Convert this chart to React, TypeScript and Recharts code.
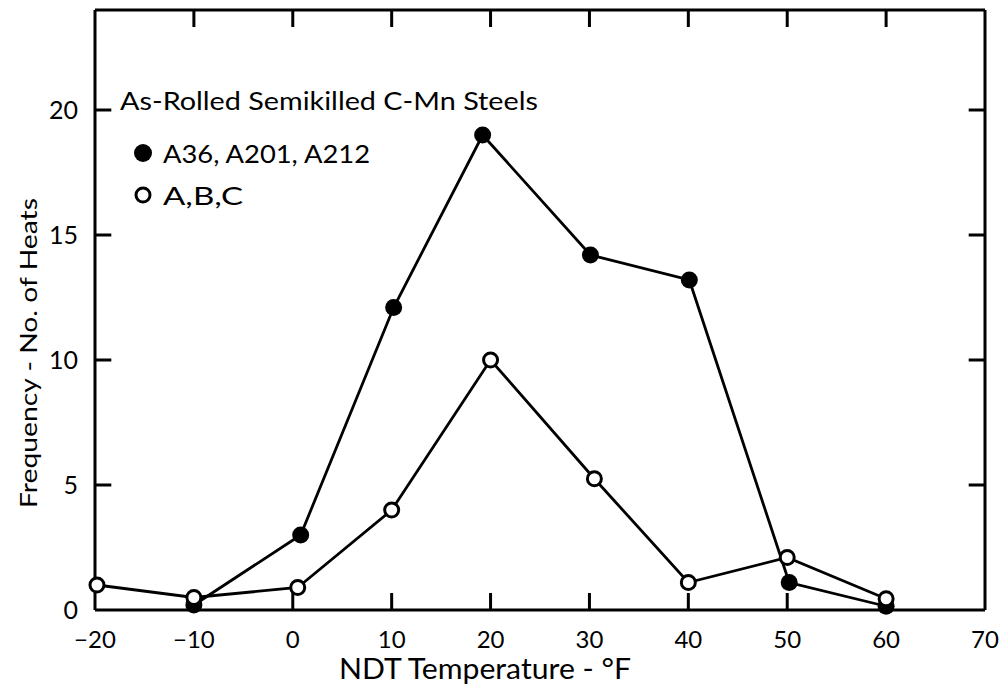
import { LineChart, Line, XAxis, YAxis, ReferenceLine, Customized } from "recharts";

const tempTicks = [-20, -10, 0, 10, 20, 30, 40, 50, 60, 70];
const countTicks = [0, 5, 10, 15, 20];
const innerTempTicks = [-10, 0, 10, 20, 30, 40, 50, 60];
const innerCountTicks = [5, 10, 15, 20];

// A36, A201, A212 (solid dots)
const solidTemps = [-10, 0.8, 10.2, 19.2, 30.1, 40.1, 50.2, 60];
const solidCounts = [0.2, 3, 12.1, 19, 14.2, 13.2, 1.1, 0.15];

// A, B, C (open dots)
const openTemps = [-19.8, -10, 0.5, 10, 20, 30.5, 40, 50, 60];
const openCounts = [1, 0.5, 0.9, 4, 10, 5.25, 1.1, 2.1, 0.45];

const solidData = solidTemps.map((t, i) => ({ t, n: solidCounts[i] }));
const openData = openTemps.map((t, i) => ({ t, n: openCounts[i] }));

const X_MIN = -20;
const X_MAX = 70;
const Y_MAX = 24;
// inward tick lengths in data units (about 17 px)
const X_TICK = 0.68;
const Y_TICK = 1.65;

const FONT = "Lato, 'Noto Sans', sans-serif";

const fmtTemp = (v: number) => (v < 0 ? "\u2212" + Math.abs(v) : String(v));

function SolidDot(props: any) {
  const { cx, cy } = props;
  return <circle cx={cx} cy={cy} r={8.5} fill="#000" />;
}

function OpenDot(props: any) {
  const { cx, cy } = props;
  return <circle cx={cx} cy={cy} r={7} fill="#fff" stroke="#000" strokeWidth={3} />;
}

function Annotations() {
  return (
    <g fontFamily={FONT} fill="#000">
      <text x={120} y={110} fontSize={25} textLength={418} lengthAdjust="spacingAndGlyphs">
        As-Rolled Semikilled C-Mn Steels
      </text>
      <circle cx={143} cy={153} r={9} fill="#000" />
      <text x={163} y={163} fontSize={25} textLength={207} lengthAdjust="spacingAndGlyphs">
        A36, A201, A212
      </text>
      <circle cx={143} cy={195} r={7} fill="#fff" stroke="#000" strokeWidth={3} />
      <text x={163} y={205} fontSize={25} textLength={80} lengthAdjust="spacingAndGlyphs">
        A,B,C
      </text>
      <text x={485} y={679} fontSize={28} textAnchor="middle" textLength={292} lengthAdjust="spacingAndGlyphs">
        NDT Temperature  - °F
      </text>
      <text
        transform="translate(37 353) rotate(-90)"
        fontSize={24}
        textAnchor="middle"
        textLength={310}
        lengthAdjust="spacingAndGlyphs"
      >
        Frequency - No. of Heats
      </text>
    </g>
  );
}

export default function App() {
  const axisLine = { stroke: "#000", strokeWidth: 3 };
  const tickText = { fill: "#000", fontSize: 24, fontFamily: FONT };
  return (
    <div style={{ position: "absolute", left: 0, top: 0, width: 999, height: 695, background: "#fff" }}>
      <LineChart width={999} height={695} margin={{ top: 10, right: 14, bottom: 0, left: 0 }}>
        <XAxis
          xAxisId="b"
          type="number"
          dataKey="t"
          domain={[X_MIN, X_MAX]}
          ticks={tempTicks}
          interval={0}
          height={85}
          tickMargin={15}
          axisLine={axisLine}
          tickLine={false}
          tick={tickText}
          tickFormatter={fmtTemp}
        />
        <YAxis
          yAxisId="l"
          type="number"
          domain={[0, Y_MAX]}
          ticks={countTicks}
          interval={0}
          width={95}
          tickMargin={11}
          axisLine={axisLine}
          tickLine={false}
          tick={{ ...tickText, fontSize: 25 }}
        />
        <Line
          xAxisId="b"
          yAxisId="l"
          data={solidData}
          dataKey="n"
          type="linear"
          stroke="#000"
          strokeWidth={2.8}
          dot={<SolidDot />}
          activeDot={false}
          isAnimationActive={false}
        />
        <Line
          xAxisId="b"
          yAxisId="l"
          data={openData}
          dataKey="n"
          type="linear"
          stroke="#000"
          strokeWidth={2.8}
          dot={<OpenDot />}
          activeDot={false}
          isAnimationActive={false}
        />
        {/* top and right frame */}
        <ReferenceLine xAxisId="b" yAxisId="l" stroke="#000" strokeWidth={3} ifOverflow="visible" y={Y_MAX} />
        <ReferenceLine xAxisId="b" yAxisId="l" stroke="#000" strokeWidth={3} ifOverflow="visible" x={X_MAX} />
        {/* inward ticks, one group per side */}
        {innerTempTicks.map((t) => (
          <ReferenceLine
            key={"xb" + t}
            xAxisId="b"
            yAxisId="l"
            stroke="#000"
            strokeWidth={3}
            ifOverflow="visible"
            segment={[{ x: t, y: 0 }, { x: t, y: X_TICK }]}
          />
        ))}
        {innerTempTicks.map((t) => (
          <ReferenceLine
            key={"xt" + t}
            xAxisId="b"
            yAxisId="l"
            stroke="#000"
            strokeWidth={3}
            ifOverflow="visible"
            segment={[{ x: t, y: Y_MAX - X_TICK }, { x: t, y: Y_MAX }]}
          />
        ))}
        {innerCountTicks.map((c) => (
          <ReferenceLine
            key={"yl" + c}
            xAxisId="b"
            yAxisId="l"
            stroke="#000"
            strokeWidth={3}
            ifOverflow="visible"
            segment={[{ x: X_MIN, y: c }, { x: X_MIN + Y_TICK, y: c }]}
          />
        ))}
        {innerCountTicks.map((c) => (
          <ReferenceLine
            key={"yr" + c}
            xAxisId="b"
            yAxisId="l"
            stroke="#000"
            strokeWidth={3}
            ifOverflow="visible"
            segment={[{ x: X_MAX - Y_TICK, y: c }, { x: X_MAX, y: c }]}
          />
        ))}
        <Customized component={<Annotations />} />
      </LineChart>
    </div>
  );
}
